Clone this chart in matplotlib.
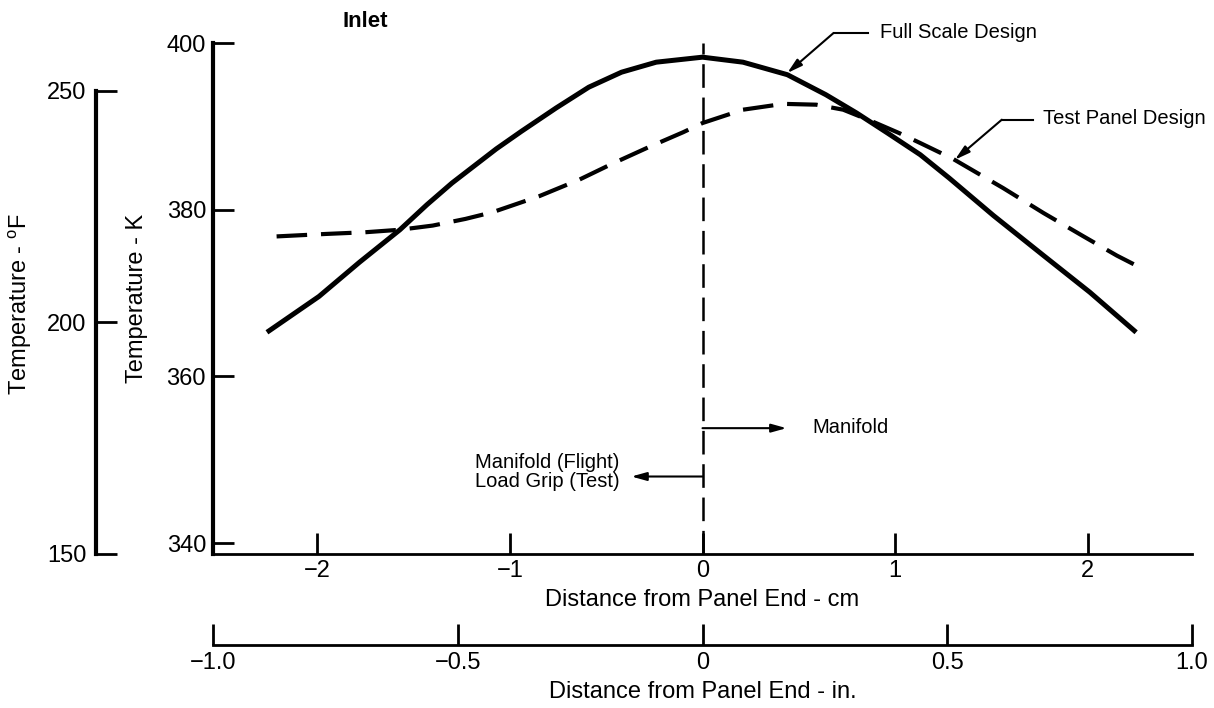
import numpy as np
import matplotlib
matplotlib.use("Agg")
import matplotlib.pyplot as plt

plt.rcParams["font.family"] = ["Liberation Sans", "DejaVu Sans"]
plt.rcParams["mathtext.fontset"] = "custom"
plt.rcParams["mathtext.rm"] = "Liberation Sans"
plt.rcParams["lines.scale_dashes"] = False

# values (cm, K)
dist_full = [-2.26, -1.99, -1.78, -1.57, -1.43, -1.30, -1.07, -0.94, -0.76, -0.59, -0.42, -0.24,
             0.0, 0.21, 0.44, 0.64, 0.80, 0.96, 1.13, 1.28, 1.51, 1.77, 2.01, 2.25]
temp_full = [365.3, 369.6, 373.7, 377.6, 380.6, 383.2, 387.3, 389.4, 392.2, 394.7, 396.5, 397.7,
             398.3, 397.7, 396.2, 393.8, 391.6, 389.2, 386.6, 383.8, 379.3, 374.5, 370.1, 365.3]

dist_test = [-2.21, -1.95, -1.75, -1.57, -1.40, -1.23, -1.09, -0.85, -0.64, -0.47, -0.28, -0.10,
             0.0, 0.21, 0.42, 0.59, 0.73, 0.88, 1.02, 1.13, 1.30, 1.56, 1.77, 1.97, 2.15, 2.26]
temp_test = [376.8, 377.1, 377.3, 377.6, 378.1, 378.9, 379.7, 381.6, 383.6, 385.5, 387.5, 389.3,
             390.4, 392.0, 392.7, 392.6, 392.0, 390.6, 389.2, 388.0, 386.1, 382.6, 379.6, 376.9, 374.5, 373.2]

k_ticks = [340, 360, 380, 400]
f_ticks = [150, 200, 250]
cm_ticks = [-2, -1, 0, 1, 2]
cm_labels = ["\u22122", "\u22121", "0", "1", "2"]
in_ticks = [-1.0, -0.5, 0.0, 0.5, 1.0]
in_labels = ["\u22121.0", "\u22120.5", "0", "0.5", "1.0"]


def f2k(f):
    return (np.asarray(f) - 32) * 5 / 9 + 273.15


def k2f(k):
    return (np.asarray(k) - 273.15) * 9 / 5 + 32


W, H = 1214, 708
fig = plt.figure(figsize=(W / 100, H / 100), dpi=100)

left, right = 213 / W, 1192 / W
bottom, top = 1 - 554 / H, 1 - 43 / H
ax = fig.add_axes([left, bottom, right - left, top - bottom])

kmin, kmax = float(f2k(150)), 400
ax.set_xlim(-2.54, 2.54)
ax.set_ylim(kmin, kmax)

ax.spines["top"].set_visible(False)
ax.spines["right"].set_visible(False)
ax.spines["left"].set_linewidth(3)
ax.spines["bottom"].set_linewidth(2)

TS = 17
ax.set_yticks(k_ticks)
ax.set_xticks(cm_ticks)
ax.set_xticklabels(cm_labels)
ax.tick_params(axis="y", direction="in", length=15, width=2, pad=5, labelsize=TS)
ax.tick_params(axis="x", direction="in", length=15, width=2, pad=4, labelsize=TS)
ax.set_xlabel("Distance from Panel End - cm", fontsize=TS, labelpad=5)
ax.set_ylabel("Temperature - K", fontsize=TS)
ax.yaxis.set_label_coords(-0.066, 0.5)

# curves
ax.plot(dist_full, temp_full, color="black", lw=3.6, solid_capstyle="butt", solid_joinstyle="round")
ax.plot(dist_test, temp_test, color="black", lw=3, linestyle=(0, (22, 10)))
ax.plot([0, 0], [kmin, 400], color="black", lw=1.8, linestyle=(0, (17, 7)))

# inch axis below
sec = ax.secondary_xaxis(-0.178, functions=(lambda x: x / 2.54, lambda x: x * 2.54))
sec.set_xticks(in_ticks)
sec.set_xticklabels(in_labels)
sec.spines["bottom"].set_linewidth(2)
sec.tick_params(direction="in", length=15, width=2, pad=5, labelsize=TS)
sec.set_xlabel("Distance from Panel End - in.", fontsize=TS, labelpad=5)

# Fahrenheit axis on the far left
axf = fig.add_axes([96 / W, bottom, 0.01, top - bottom])
axf.set_ylim(150, float(k2f(400)))
axf.patch.set_visible(False)
for s in ["top", "right", "bottom"]:
    axf.spines[s].set_visible(False)
axf.spines["left"].set_linewidth(3)
axf.spines["left"].set_bounds(150, 250)
axf.set_xticks([])
axf.set_yticks(f_ticks)
axf.tick_params(axis="y", direction="in", length=15, width=2, pad=7, labelsize=TS)
axf.set_ylabel("Temperature - $^{\\rm o}$F", fontsize=TS)
axf.yaxis.set_label_coords(34 / W, 1 - 304 / H, transform=fig.transFigure)

# annotations
AS = 14.5
arrow = dict(arrowstyle="-|>,head_length=0.9,head_width=0.25", color="black", lw=1.5, shrinkA=0, shrinkB=0)
ax.text(-1.87, 402.6, "Inlet", fontsize=16, fontweight="bold", va="center", ha="left")

ax.plot([0.68, 0.857], [401.2, 401.2], color="black", lw=1.5, clip_on=False)
ax.annotate("", xy=(0.44, 396.4), xytext=(0.68, 401.2), arrowprops=arrow, annotation_clip=False)
ax.text(0.92, 401.2, "Full Scale Design", fontsize=AS, va="center", ha="left")

ax.plot([1.553, 1.714], [390.8, 390.8], color="black", lw=1.5, clip_on=False)
ax.annotate("", xy=(1.31, 386.0), xytext=(1.553, 390.8), arrowprops=arrow)
ax.text(1.766, 391.0, "Test Panel Design", fontsize=AS, va="center", ha="left")

ax.annotate("", xy=(0.436, 353.8), xytext=(0, 353.8), arrowprops=arrow)
ax.text(0.571, 353.9, "Manifold", fontsize=AS, va="center", ha="left")

ax.annotate("", xy=(-0.369, 348.0), xytext=(0, 348.0), arrowprops=arrow)
ax.text(-0.431, 348.5, "Manifold (Flight)\nLoad Grip (Test)", fontsize=AS,
        va="center", ha="right", multialignment="center", linespacing=1.0)

fig.savefig("out.png", dpi=100)
